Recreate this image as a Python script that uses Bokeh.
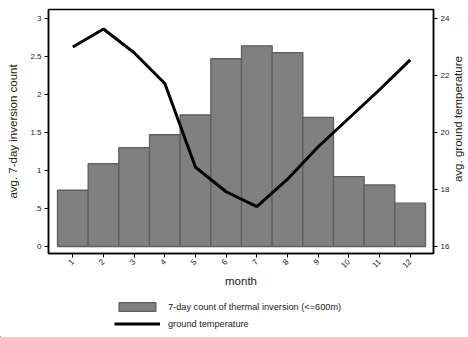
import math
from bokeh.plotting import figure
from bokeh.layouts import column, row
from bokeh.models import Range1d, LinearAxis, Legend, LegendItem, FixedTicker, Label
from bokeh.embed import file_html
from bokeh.resources import INLINE

months = [1, 2, 3, 4, 5, 6, 7, 8, 9, 10, 11, 12]
inversion_count = [0.74, 1.09, 1.30, 1.47, 1.73, 2.47, 2.64, 2.55, 1.70, 0.92, 0.81, 0.57]
ground_temp = [23.0, 23.63, 22.8, 21.72, 18.78, 17.92, 17.40, 18.36, 19.5, 20.5, 21.5, 22.55]
left_ticks = [0, 0.5, 1, 1.5, 2, 2.5, 3]
left_tick_labels = ["0", ".5", "1", "1.5", "2", "2.5", "3"]
right_ticks = [16, 18, 20, 22, 24]
legend_labels = ["7-day count of thermal inversion (<=600m)", "ground temperature"]
right_title = "avg. ground temperature"

FONT = "Liberation Sans"
BAR_FILL = "#808080"
BAR_LINE = "#5e5e5e"

p = figure(width=453, height=292, output_backend="svg", toolbar_location=None,
           x_range=Range1d(0.207, 12.76), y_range=Range1d(-0.092, 3.118),
           min_border_left=48, min_border_right=20, min_border_top=9, min_border_bottom=39)
p.xaxis.visible = False
p.yaxis.visible = False
p.xgrid.visible = False
p.ygrid.visible = False
p.outline_line_color = "black"
p.outline_line_width = 1.5
p.background_fill_color = "white"
p.border_fill_color = "white"

p.extra_y_ranges = {"temp": Range1d(15.754, 24.316)}

p.vbar(x=months, top=inversion_count, bottom=0, width=1.0,
       fill_color=BAR_FILL, line_color=BAR_LINE, line_width=1.3)
p.line(x=months, y=ground_temp, y_range_name="temp", line_color="black", line_width=3)

def style(ax):
    ax.axis_line_color = "black"
    ax.axis_line_width = 1.5
    ax.major_tick_line_color = "black"
    ax.major_tick_out = 4
    ax.major_tick_in = 0
    ax.minor_tick_line_color = None
    ax.major_label_text_font = FONT
    ax.major_label_text_font_size = "8px"
    ax.major_label_text_color = "#222222"
    ax.axis_label_text_font = FONT
    ax.axis_label_text_font_size = "11.5px"
    ax.axis_label_text_font_style = "normal"
    ax.axis_label_text_color = "#222222"
    ax.major_label_standoff = 3

xax = LinearAxis(ticker=FixedTicker(ticks=months), axis_label="month")
style(xax)
xax.major_label_orientation = math.pi / 4
xax.axis_label_standoff = 2
p.add_layout(xax, "below")

yax = LinearAxis(ticker=FixedTicker(ticks=left_ticks), axis_label="avg. 7-day inversion count")
style(yax)
yax.major_label_overrides = {t: l for t, l in zip(left_ticks, left_tick_labels)}
yax.axis_label_standoff = 8
p.add_layout(yax, "left")

rax = LinearAxis(y_range_name="temp", ticker=FixedTicker(ticks=right_ticks))
style(rax)
p.add_layout(rax, "right")

# narrow strip on the right holding the right-axis title, reading bottom to top
rt = figure(width=15, height=292, output_backend="svg", toolbar_location=None,
            x_range=Range1d(0, 1), y_range=Range1d(0, 1),
            min_border_left=0, min_border_right=0, min_border_top=0, min_border_bottom=0)
rt.axis.visible = False
rt.grid.visible = False
rt.outline_line_color = None
rt.background_fill_color = "white"
rt.border_fill_color = "white"
rt.add_layout(Label(x=0.33, y=0.551, text=right_title, angle=math.pi / 2,
                    text_align="center", text_baseline="middle",
                    text_font=FONT, text_font_size="11.5px", text_color="#222222"))

# legend strip below (series drawn outside its visible range, only the legend shows)
lg = figure(width=468, height=45, output_backend="svg", toolbar_location=None,
            x_range=Range1d(100, 101), y_range=Range1d(100, 101),
            min_border_left=0, min_border_right=0, min_border_top=0, min_border_bottom=0)
lg.axis.visible = False
lg.grid.visible = False
lg.outline_line_color = None
lg.background_fill_color = "white"
lg.border_fill_color = "white"
r_bar = lg.vbar(x=months, top=inversion_count, width=1, fill_color=BAR_FILL,
                line_color=BAR_LINE, line_width=1.3)
r_line = lg.line(x=months, y=ground_temp, line_color="black", line_width=3)

legend = Legend(items=[LegendItem(label=legend_labels[0], renderers=[r_bar]),
                       LegendItem(label=legend_labels[1], renderers=[r_line])],
                location=(114, 8), orientation="vertical",
                glyph_width=46, glyph_height=11, label_height=11, label_standoff=8,
                spacing=6, padding=0, margin=0, border_line_color=None,
                background_fill_alpha=0,
                label_text_font=FONT, label_text_font_size="9.2px", label_text_color="#222222")
lg.add_layout(legend, "center")

layout = column(row(p, rt, spacing=0), lg, spacing=0)
open("out.html", "w").write(file_html(layout, INLINE))
